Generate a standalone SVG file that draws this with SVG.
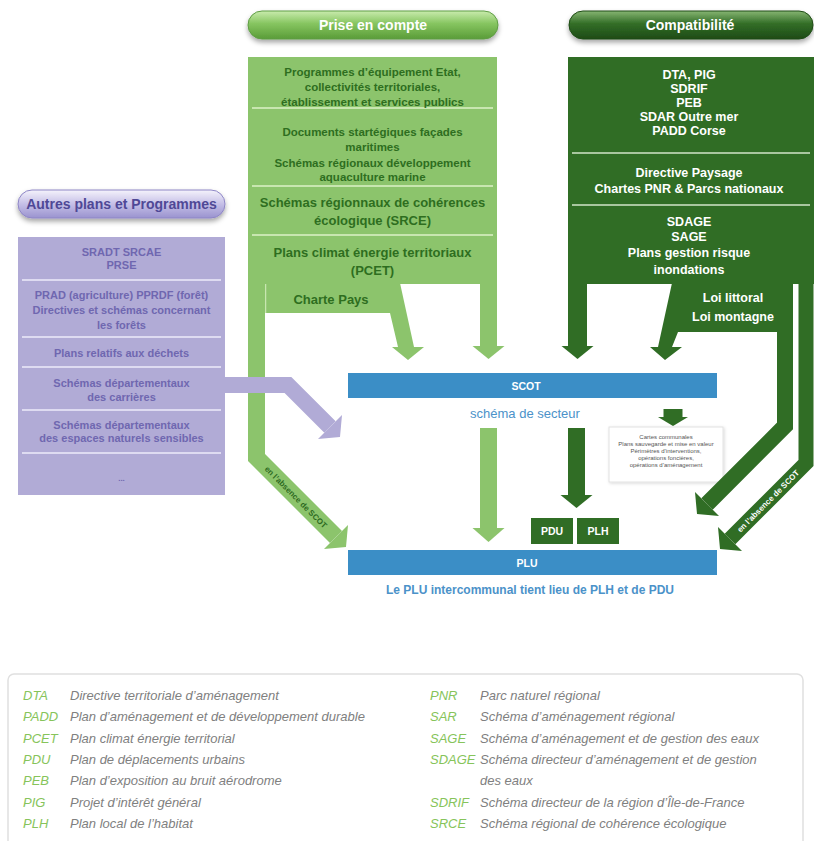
<svg xmlns="http://www.w3.org/2000/svg" width="814" height="841" viewBox="0 0 814 841">
<defs>
<linearGradient id="gLight" x1="0" y1="0" x2="0" y2="1">
<stop offset="0" stop-color="#c9ebad"/><stop offset="0.45" stop-color="#86c560"/><stop offset="1" stop-color="#5a9c38"/>
</linearGradient>
<linearGradient id="gDark" x1="0" y1="0" x2="0" y2="1">
<stop offset="0" stop-color="#86b572"/><stop offset="0.45" stop-color="#336e27"/><stop offset="1" stop-color="#1e4b16"/>
</linearGradient>
<linearGradient id="gPurple" x1="0" y1="0" x2="0" y2="1">
<stop offset="0" stop-color="#f5f3fc"/><stop offset="0.5" stop-color="#c5bfe7"/><stop offset="1" stop-color="#9a93cf"/>
</linearGradient>
<filter id="sh" x="-10%" y="-40%" width="120%" height="200%">
<feDropShadow dx="0" dy="3" stdDeviation="2.5" flood-color="#000" flood-opacity="0.35"/>
</filter>
<filter id="sh2" x="-10%" y="-10%" width="120%" height="130%">
<feDropShadow dx="1" dy="1" stdDeviation="1.5" flood-color="#000" flood-opacity="0.15"/>
</filter>
</defs>
<style>
.t{font-family:"Liberation Sans",Arial,sans-serif;font-weight:bold;text-anchor:middle}
.r{font-family:"Liberation Sans",Arial,sans-serif;text-anchor:middle}
.lg{fill:#8cc46c}
.dg{fill:#306d25}
.pu{fill:#b1abd6}
.lgs{stroke:#8cc46c;fill:none;stroke-linejoin:miter;stroke-linecap:butt}
.dgs{stroke:#306d25;fill:none;stroke-linejoin:miter;stroke-linecap:butt}
.pus{stroke:#b1abd6;fill:none;stroke-linejoin:miter;stroke-linecap:butt}
.lgt{fill:#2e6e1f}
.sepL{stroke:#c8e6b0;stroke-width:2}
.sepD{stroke:#a9c7a0;stroke-width:2}
.sepP{stroke:#dedbf1;stroke-width:2}
.pt{fill:#6f67b0;font-size:11px}
.leg{font-family:"Liberation Sans",Arial,sans-serif;font-style:italic;font-size:13px}
.ab{fill:#86c45a}
.ds{fill:#808080}
</style>
<rect x="0" y="0" width="814" height="841" fill="#ffffff"/>

<!-- Prise en compte header -->
<g id="prise-header">
<rect x="248" y="11" width="250" height="28" rx="14" fill="url(#gLight)" stroke="#5f9d45" filter="url(#sh)"/>
<text class="t" x="373" y="30" font-size="14" fill="#ffffff">Prise en compte</text>
</g>

<!-- Prise en compte panel -->
<g id="prise-panel">
<rect x="248" y="57" width="249" height="227" class="lg"/>
<line x1="252" y1="108" x2="493" y2="108" class="sepL"/>
<line x1="252" y1="186" x2="493" y2="186" class="sepL"/>
<line x1="252" y1="235" x2="493" y2="235" class="sepL"/>
<g class="t lgt" font-size="11.5">
<text x="372.5" y="76">Programmes d’équipement Etat,</text>
<text x="372.5" y="91">collectivités territoriales,</text>
<text x="372.5" y="105.5">établissement et services publics</text>
<text x="372.5" y="135.5">Documents startégiques façades</text>
<text x="372.5" y="150.5">maritimes</text>
<text x="372.5" y="167">Schémas régionaux développement</text>
<text x="372.5" y="180.5">aquaculture marine</text>
</g>
<g class="t lgt" font-size="13">
<text x="372.5" y="207">Schémas régionnaux de cohérences</text>
<text x="372.5" y="225">écologique (SRCE)</text>
<text x="372.5" y="257">Plans climat énergie territoriaux</text>
<text x="372.5" y="275">(PCET)</text>
</g>
</g>

<!-- Charte Pays -->
<g id="charte-pays">
<polygon class="lg" points="265,283 400,283 414,347 424,347 408,360 392,347 398,347 390,313 265,313"/>
<line x1="265.5" y1="284" x2="265.5" y2="313" stroke="#c8e6b0" stroke-width="1.5"/>
<text class="t lgt" x="331" y="304" font-size="13">Charte Pays</text>
</g>

<!-- Compatibilité header -->
<g id="compat-header">
<rect x="569" y="11" width="244" height="28" rx="14" fill="url(#gDark)" stroke="#1e4b16" filter="url(#sh)"/>
<text class="t" x="690" y="30" font-size="14" fill="#ffffff">Compatibilité</text>
</g>

<!-- Compatibilité panel -->
<g id="compat-panel">
<rect x="568" y="57" width="246" height="227" class="dg"/>
<line x1="572" y1="153" x2="810" y2="153" class="sepD"/>
<line x1="572" y1="205" x2="810" y2="205" class="sepD"/>
<g class="t" font-size="12.5" fill="#ffffff">
<text x="689" y="79">DTA, PIG</text>
<text x="689" y="93">SDRIF</text>
<text x="689" y="107">PEB</text>
<text x="689" y="121">SDAR Outre mer</text>
<text x="689" y="135">PADD Corse</text>
<text x="689" y="177">Directive Paysage</text>
<text x="689" y="193">Chartes PNR &amp; Parcs nationaux</text>
<text x="689" y="226">SDAGE</text>
<text x="689" y="241">SAGE</text>
<text x="689" y="257">Plans gestion risque</text>
<text x="689" y="274">inondations</text>
</g>
</g>

<!-- Loi littoral / montagne -->
<g id="loi">
<polygon class="dg" points="672,283 793,283 793,332 678,332 672,347 682,347 665,360 650,347 658,347"/>
<g class="t" font-size="12.5" fill="#ffffff">
<text x="733" y="302">Loi littoral</text>
<text x="733" y="321">Loi montagne</text>
</g>
</g>

<!-- Autres plans header -->
<g id="autres-header">
<rect x="18" y="190" width="207" height="28" rx="14" fill="url(#gPurple)" stroke="#8e86c6" filter="url(#sh)"/>
<text class="t" x="121.5" y="209" font-size="14" fill="#4f4896">Autres plans et Programmes</text>
</g>

<!-- Autres plans panel -->
<g id="autres-panel">
<rect x="18" y="237" width="207" height="258" class="pu"/>
<line x1="22" y1="280" x2="221" y2="280" class="sepP"/>
<line x1="22" y1="337" x2="221" y2="337" class="sepP"/>
<line x1="22" y1="367" x2="221" y2="367" class="sepP"/>
<line x1="22" y1="410" x2="221" y2="410" class="sepP"/>
<line x1="22" y1="453" x2="221" y2="453" class="sepP"/>
<g class="t pt">
<text x="121.5" y="256">SRADT SRCAE</text>
<text x="121.5" y="269">PRSE</text>
<text x="121.5" y="299">PRAD (agriculture) PPRDF (forêt)</text>
<text x="121.5" y="314">Directives et schémas concernant</text>
<text x="121.5" y="329">les forêts</text>
<text x="121.5" y="357">Plans relatifs aux déchets</text>
<text x="121.5" y="387">Schémas départementaux</text>
<text x="121.5" y="401">des carrières</text>
<text x="121.5" y="429">Schémas départementaux</text>
<text x="121.5" y="442">des espaces naturels sensibles</text>
<text x="121.5" y="481" font-size="8">...</text>
</g>
</g>

<!-- SCOT -->
<g id="scot">
<rect x="348" y="373" width="369" height="25" fill="#3b8ec6"/>
<text class="t" x="526" y="389.5" font-size="10.5" fill="#ffffff">SCOT</text>
<text class="r" x="525" y="418" font-size="13" fill="#4b92c9">schéma de secteur</text>
</g>

<!-- Note box -->
<g id="note">
<rect x="609" y="427" width="114" height="55" fill="#ffffff" stroke="#e2e2e2" filter="url(#sh2)"/>
<g class="r" font-size="6" fill="#555555">
<text x="666" y="439">Cartes communales</text>
<text x="666" y="446">Plans sauvegarde et mise en valeur</text>
<text x="666" y="453">Périmètres d’interventions,</text>
<text x="666" y="460">opérations foncières,</text>
<text x="666" y="467">opérations d’aménagement</text>
</g>
</g>

<!-- Connectors -->
<g id="connectors">
<polyline class="lgs" stroke-width="17" points="256.5,280 256.5,457.5 336,537"/>
<polygon class="lg" points="348,525 346,547 324,549"/>
<polyline class="lgs" stroke-width="17" points="488.5,280 488.5,347"/>
<polygon class="lg" points="472.5,346 504.5,346 488.5,359"/>
<polyline class="lgs" stroke-width="17" points="488.5,428 488.5,529"/>
<polygon class="lg" points="472.5,528 504.5,528 488.5,542"/>
<polyline class="dgs" stroke-width="19" points="577.5,280 577.5,347"/>
<polygon class="dg" points="561.5,346 593.5,346 577.5,359"/>
<polyline class="dgs" stroke-width="16" points="785,330 785,426 707,504"/>
<polygon class="dg" points="719,516 697,514 695,492"/>
<polyline class="dgs" stroke-width="15" points="806,280 806,463 730,539"/>
<polygon class="dg" points="742,551 720,549 718,527"/>
<polyline class="dgs" stroke-width="17" points="576.5,428 576.5,496"/>
<polygon class="dg" points="560.5,495 592.5,495 576.5,508"/>
<polyline class="dgs" stroke-width="19" points="673,409 673,418"/>
<polygon class="dg" points="658,417 688,417 673,426"/>
<polyline class="pus" stroke-width="16" points="222,385 288,385 330,427"/>
<polygon class="pu" points="342,415 340,437 318,439"/>
<text class="t" transform="translate(296,497) rotate(45)" font-size="8" fill="#2d6a1f" dy="3">en l’absence de SCOT</text>
<text class="t" transform="translate(768,501) rotate(-45)" font-size="8" fill="#ffffff" dy="3">en l’absence de SCOT</text>
</g>

<!-- PDU / PLH -->
<g id="pdu">
<rect x="531" y="518" width="42" height="26" class="dg"/>
<text class="t" x="552" y="535" font-size="10.5" fill="#ffffff">PDU</text>
</g>
<g id="plh">
<rect x="577" y="518" width="42" height="26" class="dg"/>
<text class="t" x="598" y="535" font-size="10.5" fill="#ffffff">PLH</text>
</g>

<!-- PLU -->
<g id="plu">
<rect x="348" y="550" width="369" height="25" fill="#3b8ec6"/>
<text class="t" x="527" y="566.5" font-size="10.5" fill="#ffffff">PLU</text>
<text class="t" x="530" y="594" font-size="12" fill="#4b92c9">Le PLU intercommunal tient lieu de PLH et de PDU</text>
</g>

<!-- Legend -->
<g id="legend">
<rect x="8" y="674" width="795" height="200" rx="6" fill="none" stroke="#e0e0e0" stroke-width="1.5"/>
<g class="leg">
<text class="ab" x="23" y="700">DTA</text><text class="ds" x="70" y="700">Directive territoriale d’aménagement</text>
<text class="ab" x="23" y="721.3">PADD</text><text class="ds" x="70" y="721.3">Plan d’aménagement et de développement durable</text>
<text class="ab" x="23" y="742.6">PCET</text><text class="ds" x="70" y="742.6">Plan climat énergie territorial</text>
<text class="ab" x="23" y="763.9">PDU</text><text class="ds" x="70" y="763.9">Plan de déplacements urbains</text>
<text class="ab" x="23" y="785.2">PEB</text><text class="ds" x="70" y="785.2">Plan d’exposition au bruit aérodrome</text>
<text class="ab" x="23" y="806.5">PIG</text><text class="ds" x="70" y="806.5">Projet d’intérêt général</text>
<text class="ab" x="23" y="827.8">PLH</text><text class="ds" x="70" y="827.8">Plan local de l’habitat</text>
<text class="ab" x="430" y="700">PNR</text><text class="ds" x="480" y="700">Parc naturel régional</text>
<text class="ab" x="430" y="721.3">SAR</text><text class="ds" x="480" y="721.3">Schéma d’aménagement régional</text>
<text class="ab" x="430" y="742.6">SAGE</text><text class="ds" x="480" y="742.6">Schéma d’aménagement et de gestion des eaux</text>
<text class="ab" x="430" y="763.9">SDAGE</text><text class="ds" x="480" y="763.9">Schéma directeur d’aménagement et de gestion</text>
<text class="ds" x="480" y="785.2">des eaux</text>
<text class="ab" x="430" y="806.5">SDRIF</text><text class="ds" x="480" y="806.5">Schéma directeur de la région d’Île-de-France</text>
<text class="ab" x="430" y="827.8">SRCE</text><text class="ds" x="480" y="827.8">Schéma régional de cohérence écologique</text>
</g>
</g>
</svg>
